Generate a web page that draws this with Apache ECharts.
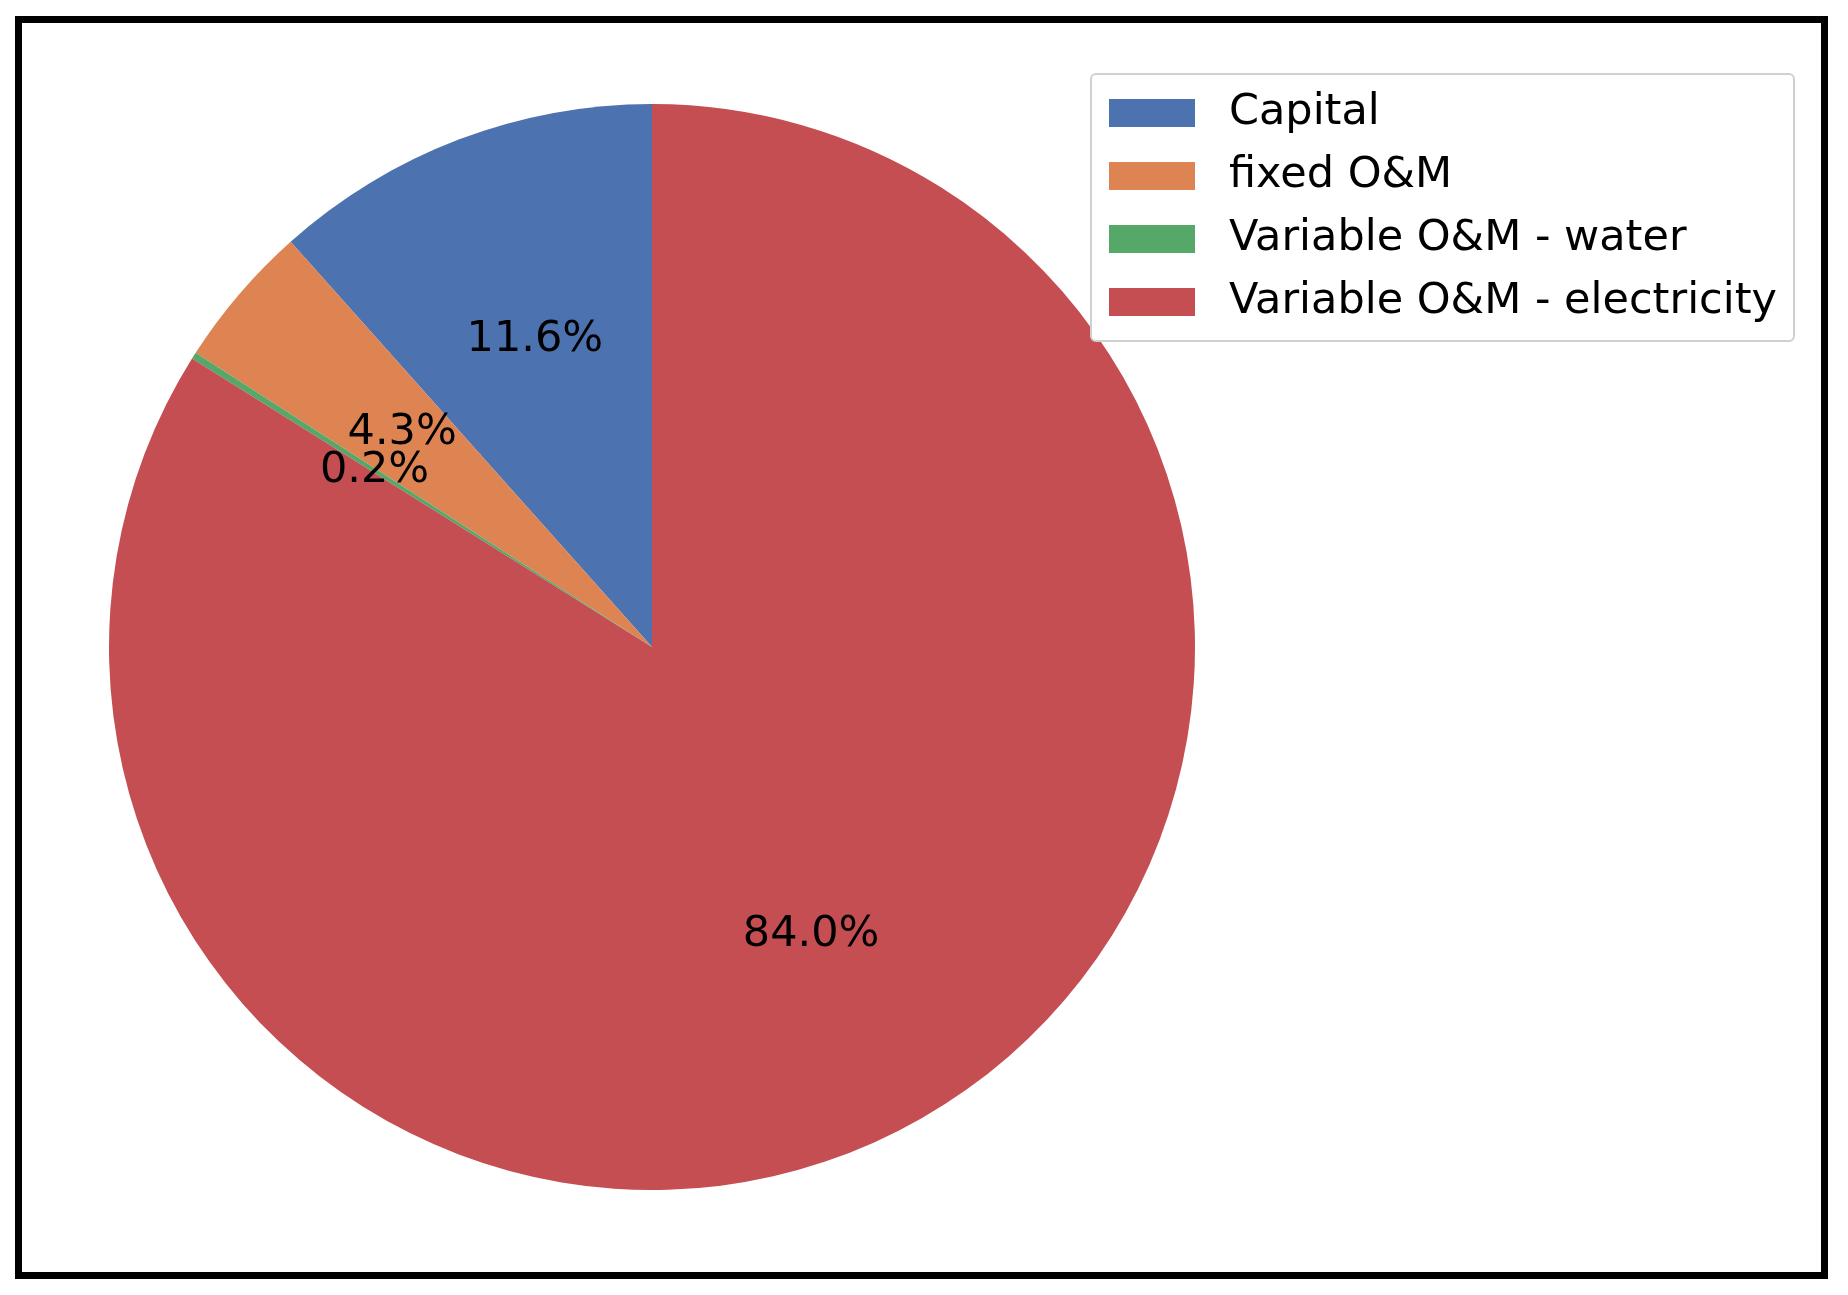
<!DOCTYPE html>
<html>
<head>
<meta charset="utf-8">
<script src="https://cdn.jsdelivr.net/npm/echarts@6/dist/echarts.min.js"></script>
<style>
html,body{margin:0;padding:0;background:#fff;}
#main{width:1848px;height:1295px;}
</style>
</head>
<body>
<div id="main"></div>
<script>
const categories = ['Capital', 'fixed O&M', 'Variable O&M - water', 'Variable O&M - electricity'];
const shares = [11.6, 4.3, 0.2, 84.0];
const colors = ['#4C72B0', '#DD8452', '#55A868', '#C44E52'];

const chart = echarts.init(document.getElementById('main'));
const pieData = categories.map((name, i) => ({ name: name, value: shares[i], itemStyle: { color: colors[i] } }));
const R = 543;
const option = {
  animation: false,
  backgroundColor: '#ffffff',
  legend: {
    orient: 'vertical',
    left: 1091,
    top: 74,
    data: categories,
    icon: 'rect',
    itemWidth: 86,
    itemHeight: 28,
    itemGap: 19,
    padding: [17, 17, 17, 18],
    backgroundColor: '#ffffff',
    borderColor: '#d0d0d0',
    borderWidth: 2,
    borderRadius: 5,
    textStyle: {
      fontFamily: 'DejaVu Sans',
      fontSize: 43,
      lineHeight: 44,
      color: '#000',
      padding: [0, 0, 0, 29]
    },
    selectedMode: false
  },
  graphic: [{
    type: 'rect',
    shape: { x: 18.5, y: 19.5, width: 1806, height: 1256 },
    style: { fill: 'none', stroke: '#000', lineWidth: 7 },
    z: 100
  }],
  series: [{
    type: 'pie',
    center: [652, 647],
    radius: [0, R],
    startAngle: 90,
    clockwise: false,
    label: { show: false },
    labelLine: { show: false },
    emphasis: { disabled: true },
    data: pieData,
    silent: true
  }, {
    type: 'pie',
    center: [652, 647],
    radius: [0, R * 1.2],
    startAngle: 90,
    clockwise: false,
    silent: true,
    avoidLabelOverlap: false,
    minShowLabelAngle: 0,
    emphasis: { disabled: true },
    itemStyle: { color: 'rgba(0,0,0,0)' },
    labelLine: { show: false },
    labelLayout: { hideOverlap: false },
    label: {
      show: true,
      position: 'inside',
      color: '#000',
      fontFamily: 'DejaVu Sans',
      fontSize: 43,
      formatter: p => p.value.toFixed(1) + '%'
    },
    data: categories.map((name, i) => ({ name: name, value: shares[i] })),
    z: 5
  }]
};
chart.setOption(option);
</script>
</body>
</html>
